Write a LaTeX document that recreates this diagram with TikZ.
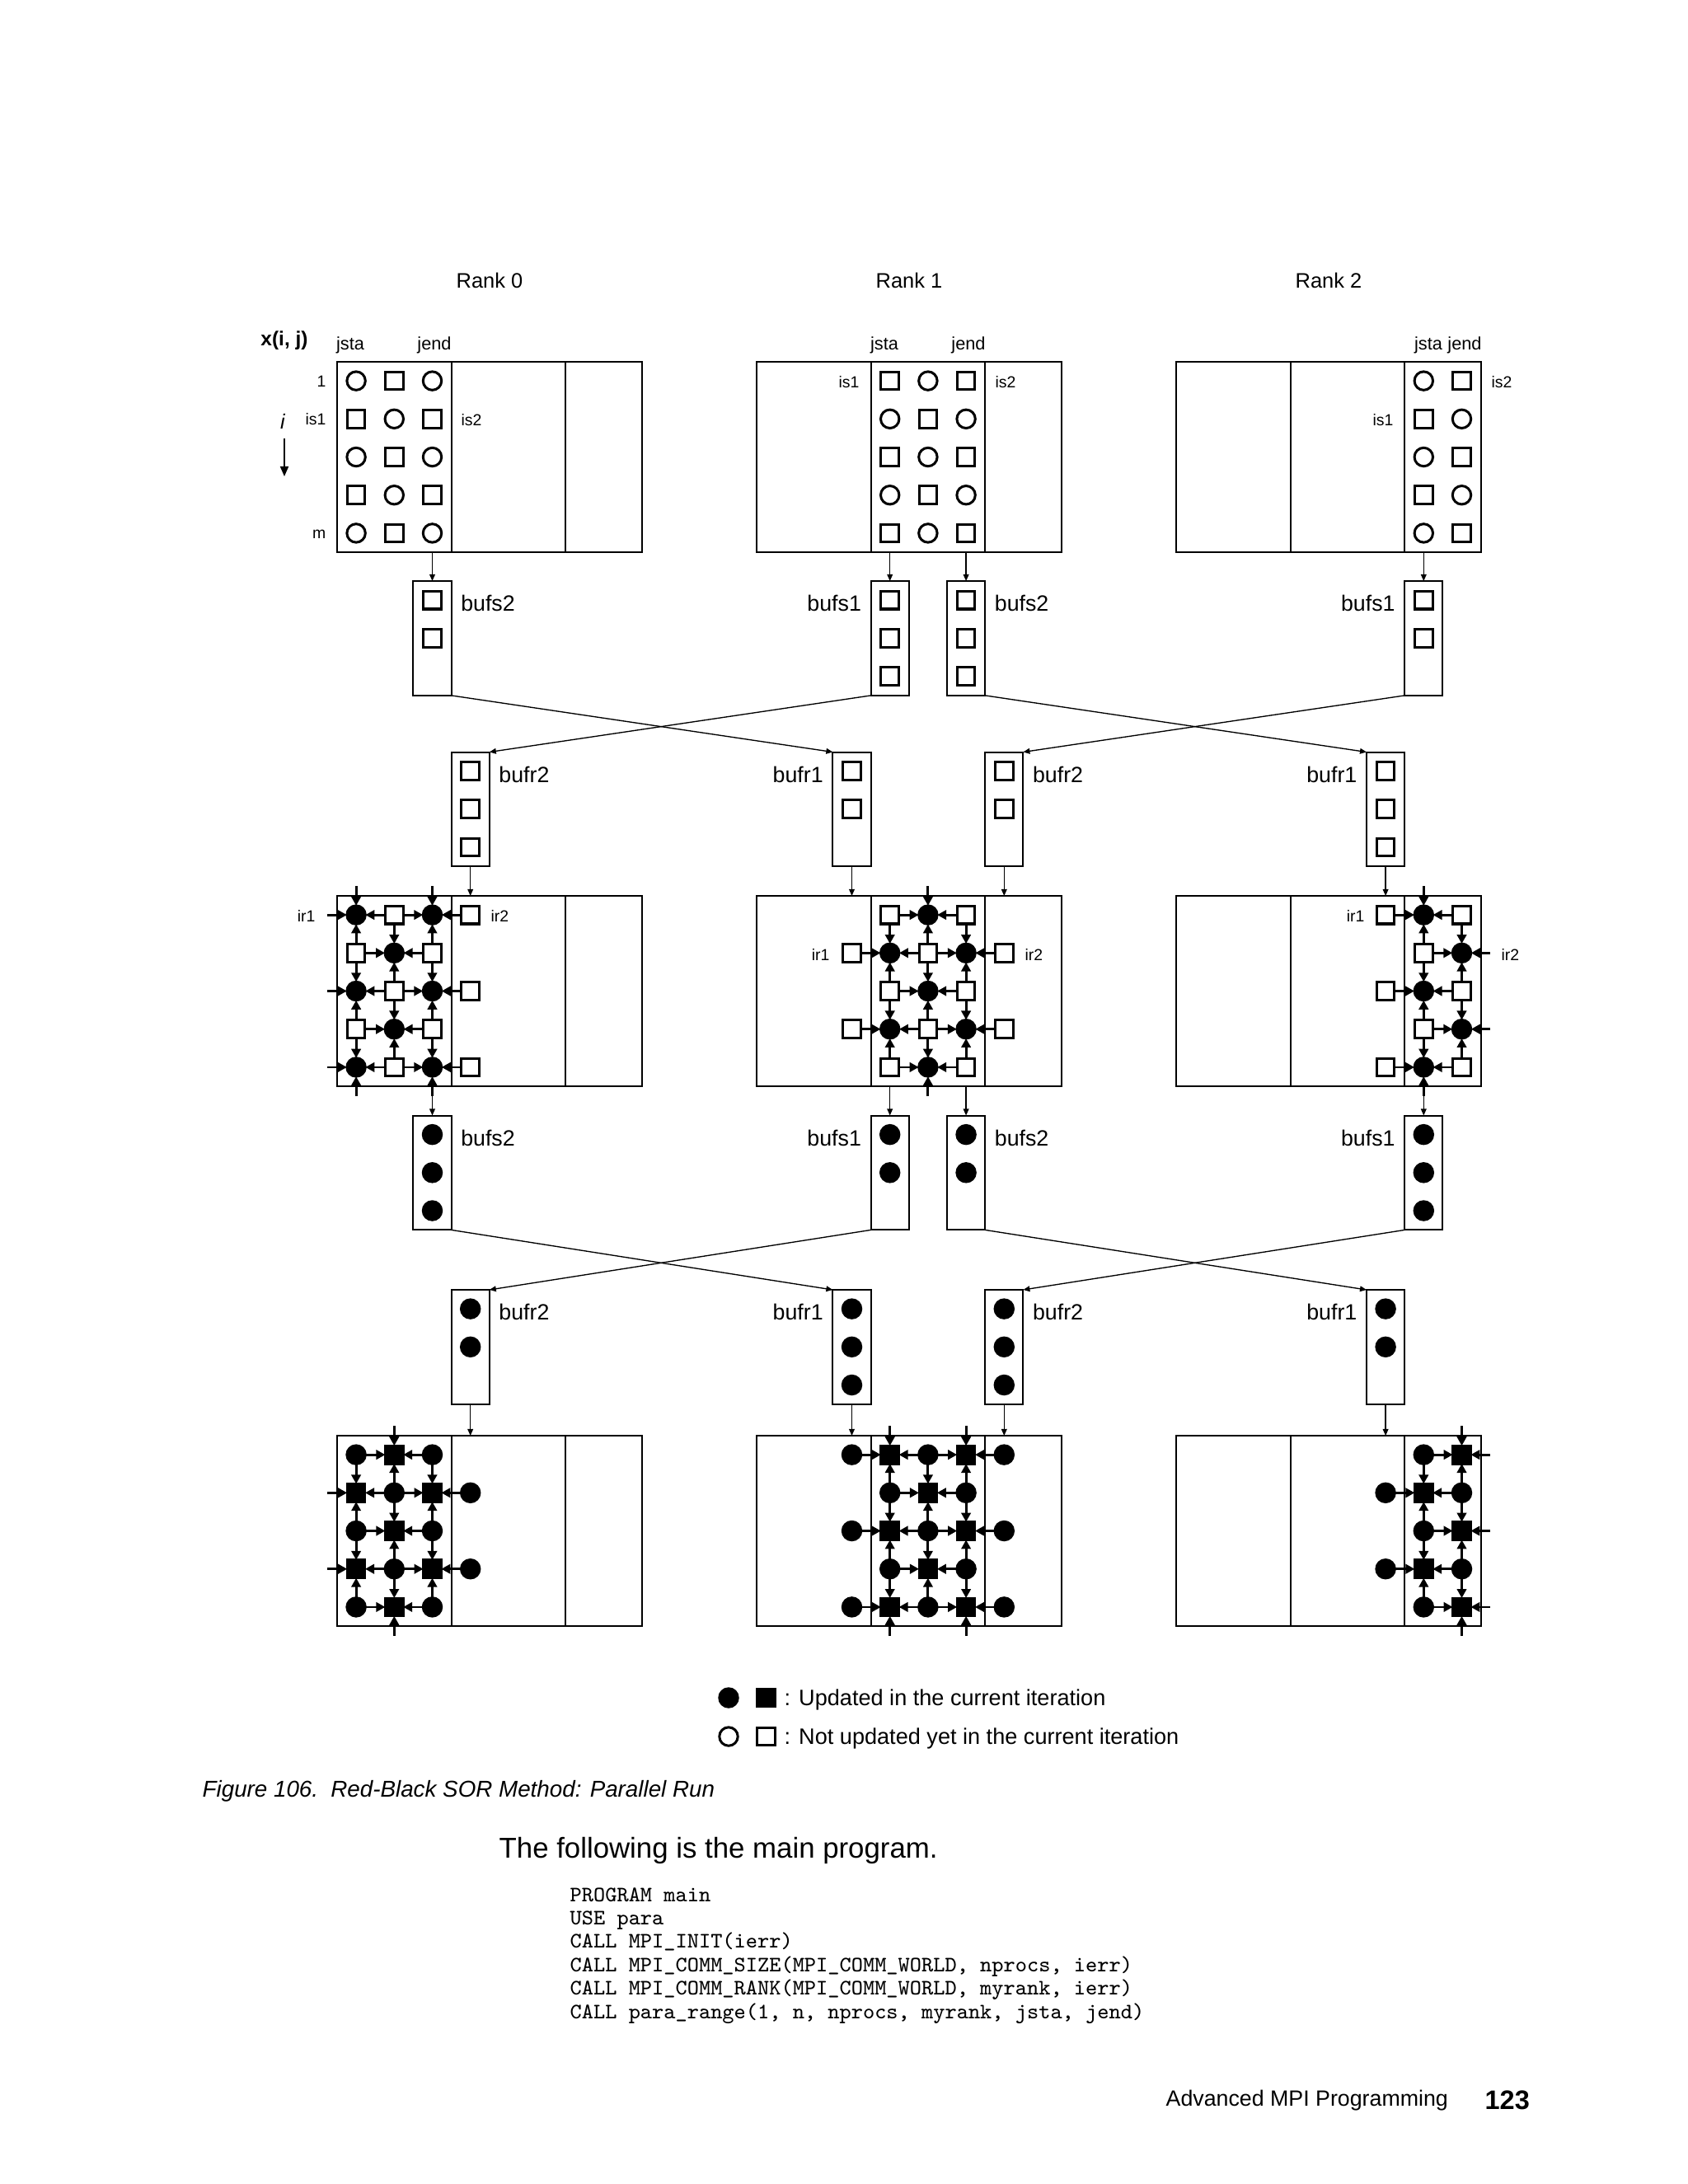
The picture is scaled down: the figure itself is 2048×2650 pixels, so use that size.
\documentclass[tikz,border=0pt]{standalone}
\usepackage{fontspec}
\setmainfont{Liberation Sans}
\usetikzlibrary{arrows.meta,calc}
\newcommand\mkbuf[5]{%
  \node[bufbox] (#1) at (#2,#3) {};
  \foreach \kk in {1,...,#4}{\node[#5] (#1-\kk) at ({#2},{#3+23.1+46.2*(\kk-1)}) {};}
}
\newcommand\labR[2]{\node[blab,anchor=west] (#1-lab) at ($(#1.north east)+(11,27)$) {#2};}
\newcommand\labL[2]{\node[blab,anchor=east] (#1-lab) at ($(#1.north west)+(-11,27)$) {#2};}
\newcommand\mknode[1]{\node[#1] (n\st r\rk-\ii-\jj) at ({\lx+46.2*(\jj-0.5)},{\ty+46.2*(\ii-0.5)}) {};}
\begin{document}
\begin{tikzpicture}[x=0.29883pt,y=-0.29883pt,
  shp/.style={draw,line width=0.9pt,inner sep=0pt,outer sep=0pt},
  ocirc/.style={shp,circle,minimum size=6.7pt},
  fcirc/.style={ocirc,fill=black},
  osq/.style={shp,rectangle,minimum size=6.5pt},
  fsq/.style={osq,fill=black},
  gar/.style={line width=0.85pt,-{Triangle[length=3.3pt,width=3.4pt]}},
  tar/.style={line width=0.4pt,-{Triangle[length=2.4pt,width=2pt]}},
  iar/.style={line width=0.5pt,-{Triangle[length=3.6pt,width=3pt]}},
  rankbox/.style={draw,line width=0.6pt,inner sep=0pt,outer sep=0pt,anchor=north west,minimum width=110.45pt,minimum height=69.03pt},
  divl/.style={line width=0.6pt},
  bufbox/.style={draw,line width=0.6pt,inner sep=0pt,outer sep=0pt,anchor=north,minimum width=13.8pt,minimum height=41.5pt},
  lab/.style={inner sep=0pt,font=\fontsize{5.8}{7}\selectfont},
  jlab/.style={inner sep=0pt,font=\fontsize{6.5}{8}\selectfont},
  blab/.style={inner sep=0pt,font=\fontsize{8}{9.6}\selectfont},
  rlab/.style={inner sep=0pt,font=\fontsize{7.6}{9}\selectfont},
  txt/.style={inner sep=0pt,anchor=west},
]
\useasboundingbox (0,0) rectangle (2048,2650);

% ---------- rank boxes, grid points, and update arrows ----------
\foreach \st/\ty/\tpty in {1/439/9,2/1087/0,3/1742/1}{
  \foreach \rk/\js/\je/\lx in {0/1/3/409,1/4/6/918,2/7/8/1427}{
    \node[rankbox] (box\st r\rk) at (\lx,\ty) {};
    \draw[divl] ({\lx+138.6},\ty) -- ++(0,231);
    \draw[divl] ({\lx+277.2},\ty) -- ++(0,231);
    \pgfmathtruncatemacro\ja{max(\js-1,1)}
    \pgfmathtruncatemacro\jb{min(\je+1,8)}
    \foreach \jj in {\ja,...,\jb}{
      \foreach \ii in {1,...,5}{
        \pgfmathtruncatemacro\pty{mod(\ii+\jj,2)}
        \pgfmathtruncatemacro\own{(\jj>=\js)*(\jj<=\je)}
        \ifnum\own=1
          \ifnum\pty=0
            \ifnum\st=1 \mknode{ocirc}\else\mknode{fcirc}\fi
          \else
            \ifnum\st=3 \mknode{fsq}\else\mknode{osq}\fi
          \fi
        \else
          \ifnum\st=2 \ifnum\pty=1 \mknode{osq}\fi\fi
          \ifnum\st=3 \ifnum\pty=0 \mknode{fcirc}\fi\fi
        \fi
      }
    }
    \foreach \jj in {\js,...,\je}{
      \foreach \ii in {1,...,5}{
        \pgfmathtruncatemacro\pty{mod(\ii+\jj,2)}
        \ifnum\pty=\tpty
          % from above
          \ifnum\ii=1
            \coordinate (bt\st r\rk-\jj) at ({\lx+46.2*(\jj-0.5)},{\ty-12});
            \draw[gar] (bt\st r\rk-\jj) -- (n\st r\rk-\ii-\jj);
          \else
            \pgfmathtruncatemacro\nI{\ii-1}
            \draw[gar] (n\st r\rk-\nI-\jj) -- (n\st r\rk-\ii-\jj);
          \fi
          % from below
          \ifnum\ii=5
            \coordinate (bb\st r\rk-\jj) at ({\lx+46.2*(\jj-0.5)},{\ty+243});
            \draw[gar] (bb\st r\rk-\jj) -- (n\st r\rk-\ii-\jj);
          \else
            \pgfmathtruncatemacro\nI{\ii+1}
            \draw[gar] (n\st r\rk-\nI-\jj) -- (n\st r\rk-\ii-\jj);
          \fi
          % from left
          \ifnum\jj=1
            \coordinate (bl\st r\rk-\ii) at ({\lx-12},{\ty+46.2*(\ii-0.5)});
            \draw[gar] (bl\st r\rk-\ii) -- (n\st r\rk-\ii-\jj);
          \else
            \pgfmathtruncatemacro\nJ{\jj-1}
            \draw[gar] (n\st r\rk-\ii-\nJ) -- (n\st r\rk-\ii-\jj);
          \fi
          % from right
          \ifnum\jj=8
            \coordinate (br\st r\rk-\ii) at ({\lx+381},{\ty+46.2*(\ii-0.5)});
            \draw[gar] (br\st r\rk-\ii) -- (n\st r\rk-\ii-\jj);
          \else
            \pgfmathtruncatemacro\nJ{\jj+1}
            \draw[gar] (n\st r\rk-\ii-\nJ) -- (n\st r\rk-\ii-\jj);
          \fi
        \fi
      }
    }
  }
}

% ---------- headings and labels ----------
\node[rlab] (rank0) at (594,340) {Rank 0};
\node[rlab] (rank1) at (1103,340) {Rank 1};
\node[rlab] (rank2) at (1612,340) {Rank 2};
\node[inner sep=0pt,font=\fontsize{7.3}{9}\selectfont\bfseries] (xij) at (345,413) {x(i, j)};
\node[jlab] (jsta0) at (425,419) {jsta};
\node[jlab] (jend0) at (527,419) {jend};
\node[jlab] (jsta1) at (1073,419) {jsta};
\node[jlab] (jend1) at (1175,419) {jend};
\node[jlab] (jsta2) at (1733,419) {jsta};
\node[jlab] (jend2) at (1777,419) {jend};
\node[lab,anchor=east] (row1) at (396,463) {1};
\node[lab,anchor=east] (is1a) at (396,509) {is1};
\node[lab,anchor=east] (rowm) at (396,648) {m};
\node[lab,anchor=west] (is2a) at (559,510) {is2};
\node[lab,anchor=east] (is1b) at (1043,464) {is1};
\node[lab,anchor=west] (is2b) at (1207,464) {is2};
\node[lab,anchor=east] (is1c) at (1691,510) {is1};
\node[lab,anchor=west] (is2c) at (1809,464) {is2};
\node[inner sep=0pt,font=\fontsize{7.5}{9}\selectfont\itshape] (ilab) at (343,511) {i};
\coordinate (itop) at (345,532);
\coordinate (ibot) at (345,578);
\draw[iar] (itop) -- (ibot);

\node[lab,anchor=east] (ir1a) at (383,1111) {ir1};
\node[lab,anchor=west] (ir2a) at (595,1111) {ir2};
\node[lab,anchor=east] (ir1b) at (1007,1158) {ir1};
\node[lab,anchor=west] (ir2b) at (1243,1158) {ir2};
\node[lab,anchor=east] (ir1c) at (1656,1111) {ir1};
\node[lab,anchor=west] (ir2c) at (1821,1158) {ir2};

% ---------- buffers, first exchange ----------
\mkbuf{p1bufs2r0}{524.5}{705}{2}{osq} \labR{p1bufs2r0}{bufs2}
\mkbuf{p1bufs1r1}{1079.7}{705}{3}{osq} \labL{p1bufs1r1}{bufs1}
\mkbuf{p1bufs2r1}{1172.1}{705}{3}{osq} \labR{p1bufs2r1}{bufs2}
\mkbuf{p1bufs1r2}{1727.3}{705}{2}{osq} \labL{p1bufs1r2}{bufs1}
\mkbuf{p1bufr2r0}{570.7}{912.5}{3}{osq} \labR{p1bufr2r0}{bufr2}
\mkbuf{p1bufr1r1}{1033.5}{912.5}{2}{osq} \labL{p1bufr1r1}{bufr1}
\mkbuf{p1bufr2r1}{1218.3}{912.5}{2}{osq} \labR{p1bufr2r1}{bufr2}
\mkbuf{p1bufr1r2}{1681.1}{912.5}{3}{osq} \labL{p1bufr1r2}{bufr1}

% ---------- buffers, second exchange ----------
\mkbuf{p2bufs2r0}{524.5}{1353.5}{3}{fcirc} \labR{p2bufs2r0}{bufs2}
\mkbuf{p2bufs1r1}{1079.7}{1353.5}{2}{fcirc} \labL{p2bufs1r1}{bufs1}
\mkbuf{p2bufs2r1}{1172.1}{1353.5}{2}{fcirc} \labR{p2bufs2r1}{bufs2}
\mkbuf{p2bufs1r2}{1727.3}{1353.5}{3}{fcirc} \labL{p2bufs1r2}{bufs1}
\mkbuf{p2bufr2r0}{570.7}{1565}{2}{fcirc} \labR{p2bufr2r0}{bufr2}
\mkbuf{p2bufr1r1}{1033.5}{1565}{3}{fcirc} \labL{p2bufr1r1}{bufr1}
\mkbuf{p2bufr2r1}{1218.3}{1565}{3}{fcirc} \labR{p2bufr2r1}{bufr2}
\mkbuf{p2bufr1r2}{1681.1}{1565}{2}{fcirc} \labL{p2bufr1r2}{bufr1}

% ---------- connectors ----------
\draw[tar] (p1bufs2r0.north |- box1r0.south) -- (p1bufs2r0.north);
\draw[tar] (p1bufs1r1.north |- box1r1.south) -- (p1bufs1r1.north);
\draw[tar] (p1bufs2r1.north |- box1r1.south) -- (p1bufs2r1.north);
\draw[tar] (p1bufs1r2.north |- box1r2.south) -- (p1bufs1r2.north);
\draw[tar] (p1bufs2r0.south east) -- (p1bufr1r1.north west);
\draw[tar] (p1bufs1r1.south west) -- (p1bufr2r0.north east);
\draw[tar] (p1bufs2r1.south east) -- (p1bufr1r2.north west);
\draw[tar] (p1bufs1r2.south west) -- (p1bufr2r1.north east);
\draw[tar] (p1bufr2r0.south) -- (p1bufr2r0.south |- box2r0.north);
\draw[tar] (p1bufr1r1.south) -- (p1bufr1r1.south |- box2r1.north);
\draw[tar] (p1bufr2r1.south) -- (p1bufr2r1.south |- box2r1.north);
\draw[tar] (p1bufr1r2.south) -- (p1bufr1r2.south |- box2r2.north);

\draw[tar] (p2bufs2r0.north |- box2r0.south) -- (p2bufs2r0.north);
\draw[tar] (p2bufs1r1.north |- box2r1.south) -- (p2bufs1r1.north);
\draw[tar] (p2bufs2r1.north |- box2r1.south) -- (p2bufs2r1.north);
\draw[tar] (p2bufs1r2.north |- box2r2.south) -- (p2bufs1r2.north);
\draw[tar] (p2bufs2r0.south east) -- (p2bufr1r1.north west);
\draw[tar] (p2bufs1r1.south west) -- (p2bufr2r0.north east);
\draw[tar] (p2bufs2r1.south east) -- (p2bufr1r2.north west);
\draw[tar] (p2bufs1r2.south west) -- (p2bufr2r1.north east);
\draw[tar] (p2bufr2r0.south) -- (p2bufr2r0.south |- box3r0.north);
\draw[tar] (p2bufr1r1.south) -- (p2bufr1r1.south |- box3r1.north);
\draw[tar] (p2bufr2r1.south) -- (p2bufr2r1.south |- box3r1.north);
\draw[tar] (p2bufr1r2.south) -- (p2bufr1r2.south |- box3r2.north);

% ---------- legend ----------
\node[fcirc] (lgfc) at (884,2060) {};
\node[fsq] (lgfs) at (929.5,2060) {};
\node[txt,font=\fontsize{8.1}{9.6}\selectfont] (lgft) at (951,2062) {: Updated in the current iteration};
\node[ocirc] (lgoc) at (884,2107) {};
\node[osq] (lgos) at (929.5,2107) {};
\node[txt,font=\fontsize{8.1}{9.6}\selectfont] (lgot) at (951,2109) {: Not updated yet in the current iteration};

% ---------- caption and page text ----------
\node[txt,font=\fontsize{8.3}{10}\selectfont\itshape] (caption) at (245,2173) {Figure 106.\hspace{0.55em}Red-Black SOR Method: Parallel Run};
\node[txt,font=\fontsize{10.4}{12}\selectfont] (body) at (605,2245) {The following is the main program.};
\node[inner sep=0pt,anchor=base west,font=\fontsize{8}{8.5}\ttfamily] (code1) at (691,2307) {PROGRAM main};
\node[inner sep=0pt,anchor=base west,font=\fontsize{8}{8.5}\ttfamily] (code2) at (691,2335.4) {USE para};
\node[inner sep=0pt,anchor=base west,font=\fontsize{8}{8.5}\ttfamily] (code3) at (691,2363.8) {CALL MPI\_INIT(ierr)};
\node[inner sep=0pt,anchor=base west,font=\fontsize{8}{8.5}\ttfamily] (code4) at (691,2392.2) {CALL MPI\_COMM\_SIZE(MPI\_COMM\_WORLD, nprocs, ierr)};
\node[inner sep=0pt,anchor=base west,font=\fontsize{8}{8.5}\ttfamily] (code5) at (691,2420.6) {CALL MPI\_COMM\_RANK(MPI\_COMM\_WORLD, myrank, ierr)};
\node[inner sep=0pt,anchor=base west,font=\fontsize{8}{8.5}\ttfamily] (code6) at (691,2449) {CALL para\_range(1, n, nprocs, myrank, jsta, jend)};
\node[txt,font=\fontsize{8}{9.6}\selectfont] (foot) at (1414,2549) {Advanced MPI Programming};
\node[txt,font=\fontsize{9.7}{11}\selectfont\bfseries] (pageno) at (1801,2548) {123};
\end{tikzpicture}
\end{document}
